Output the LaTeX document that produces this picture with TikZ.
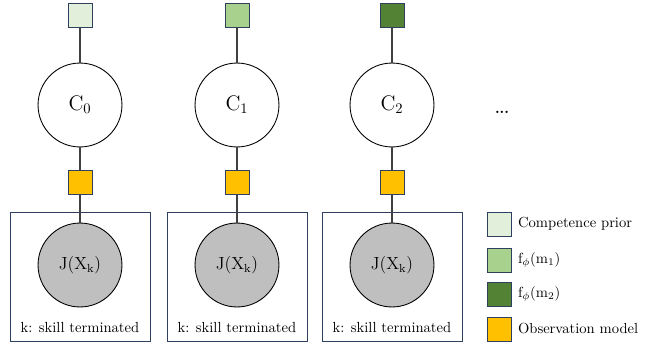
\documentclass[tikz,border=0pt]{standalone}
\usetikzlibrary{positioning}

\definecolor{priorgreen}{HTML}{E2EFDA}
\definecolor{fonegreen}{HTML}{A9D18E}
\definecolor{ftwogreen}{HTML}{548235}
\definecolor{obsorange}{HTML}{FFC000}
\definecolor{jgray}{HTML}{BFBFBF}
\definecolor{framec}{HTML}{2F3F5F}
\definecolor{linec}{HTML}{404040}

\begin{document}
\begin{tikzpicture}[x=0.685pt,y=-0.685pt]
  \tikzstyle{factor}=[draw=framec, line width=0.6pt, minimum size=16.4pt, inner sep=0pt]
  \tikzstyle{var}=[circle, draw, line width=0.6pt, minimum size=57.5pt, inner sep=0pt, font=\Large]
  \tikzstyle{plate}=[draw=framec, line width=0.6pt, minimum width=95.9pt, minimum height=88.4pt, inner sep=0pt]
  \tikzstyle{link}=[draw=linec, line width=0.7pt]

  \useasboundingbox (0,0) rectangle (652,344);

    % plates
    \node[plate] (plate0) at (80,277) {};
    \node[plate] (plate1) at (237,277) {};
    \node[plate] (plate2) at (392,277) {};

    % first skill
    \node[factor, fill=priorgreen] (prior0) at (80,15) {};
    \node[var] (c0) at (80,105) {$\mathrm{C}_0$};
    \node[factor, fill=obsorange] (obs0) at (80,182.5) {};
    \node[var, fill=jgray, font=\large] (j0) at (80,265) {$\mathrm{J}(\mathrm{X}_\mathrm{k})$};
    \node (term0) at (80,328) {k: skill terminated};
    \draw[link] (prior0) -- (c0);
    \draw[link] (c0) -- (obs0) -- (j0);

    % second skill
    \node[factor, fill=fonegreen] (prior1) at (237,15) {};
    \node[var] (c1) at (237,105) {$\mathrm{C}_1$};
    \node[factor, fill=obsorange] (obs1) at (237,182.5) {};
    \node[var, fill=jgray, font=\large] (j1) at (237,265) {$\mathrm{J}(\mathrm{X}_\mathrm{k})$};
    \node (term1) at (237,328) {k: skill terminated};
    \draw[link] (prior1) -- (c1);
    \draw[link] (c1) -- (obs1) -- (j1);

    % third skill
    \node[factor, fill=ftwogreen] (prior2) at (392,15) {};
    \node[var] (c2) at (392,105) {$\mathrm{C}_2$};
    \node[factor, fill=obsorange] (obs2) at (392,182.5) {};
    \node[var, fill=jgray, font=\large] (j2) at (392,265) {$\mathrm{J}(\mathrm{X}_\mathrm{k})$};
    \node (term2) at (392,328) {k: skill terminated};
    \draw[link] (prior2) -- (c2);
    \draw[link] (c2) -- (obs2) -- (j2);

    \node (more) at (502,112) {\textbf{...}};

    % legend
    \node[factor, fill=priorgreen] (key0) at (499,224) {};
    \node[right=1pt of key0] (keytext0) {Competence prior};
    \node[factor, fill=fonegreen] (key1) at (499,260) {};
    \node[right=1pt of key1] (keytext1) {$\mathrm{f}_\phi(\mathrm{m}_1)$};
    \node[factor, fill=ftwogreen] (key2) at (499,294) {};
    \node[right=1pt of key2] (keytext2) {$\mathrm{f}_\phi(\mathrm{m}_2)$};
    \node[factor, fill=obsorange] (key3) at (499,329) {};
    \node[right=1pt of key3] (keytext3) {Observation model};

\end{tikzpicture}
\end{document}
